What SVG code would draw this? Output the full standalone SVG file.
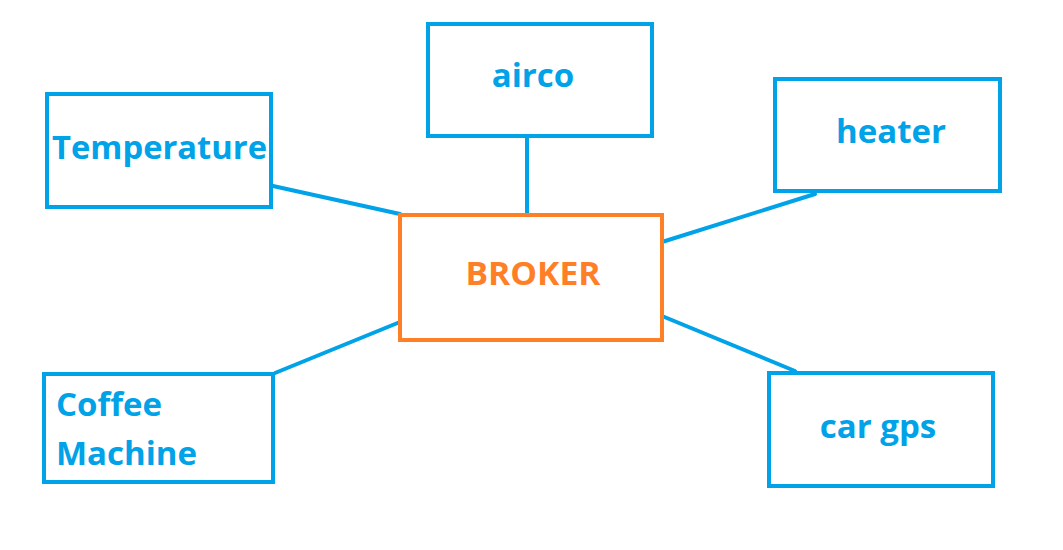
<svg xmlns="http://www.w3.org/2000/svg" width="1063" height="550" viewBox="0 0 1063 550">
<style>
.box{fill:#fff;stroke:#00A2E8;stroke-width:4}
.broker{fill:#fff;stroke:#FF7F27;stroke-width:4}
.lbl{font-family:"Open Sans","Noto Sans",sans-serif;font-weight:bold;font-size:33px;fill:#00A2E8}
.blbl{font-family:"Open Sans","Noto Sans",sans-serif;font-weight:bold;font-size:33px;fill:#FF7F27}
.edge{stroke:#00A2E8;stroke-width:4;fill:none;stroke-linecap:round}
</style>
<rect width="1063" height="550" fill="#fff"/>
<g id="connectors">
<line class="edge" x1="273" y1="186" x2="400" y2="214"/>
<line class="edge" x1="527" y1="138" x2="527" y2="214"/>
<line class="edge" x1="662" y1="242" x2="815" y2="194"/>
<line class="edge" x1="400" y1="322" x2="275" y2="373"/>
<line class="edge" x1="662" y1="316" x2="795" y2="371"/>
</g>
<g id="temperature">
<rect class="box" x="47" y="94" width="224" height="113"/>
<text class="lbl" x="52" y="159" textLength="215" lengthAdjust="spacingAndGlyphs">Temperature</text>
</g>
<g id="airco">
<rect class="box" x="428" y="24" width="224" height="112"/>
<text class="lbl" x="533" y="87" text-anchor="middle">airco</text>
</g>
<g id="heater">
<rect class="box" x="775" y="79" width="225" height="112"/>
<text class="lbl" x="891" y="143" text-anchor="middle">heater</text>
</g>
<g id="broker">
<rect class="broker" x="400" y="215" width="262" height="125"/>
<text class="blbl" x="533" y="285" text-anchor="middle" textLength="135" lengthAdjust="spacingAndGlyphs">BROKER</text>
</g>
<g id="coffee">
<rect class="box" x="44" y="374" width="229" height="108"/>
<text class="lbl" x="56" y="416">Coffee</text>
<text class="lbl" x="56" y="465">Machine</text>
</g>
<g id="cargps">
<rect class="box" x="769" y="373" width="224" height="113"/>
<text class="lbl" x="878" y="438" text-anchor="middle">car gps</text>
</g>
</svg>
